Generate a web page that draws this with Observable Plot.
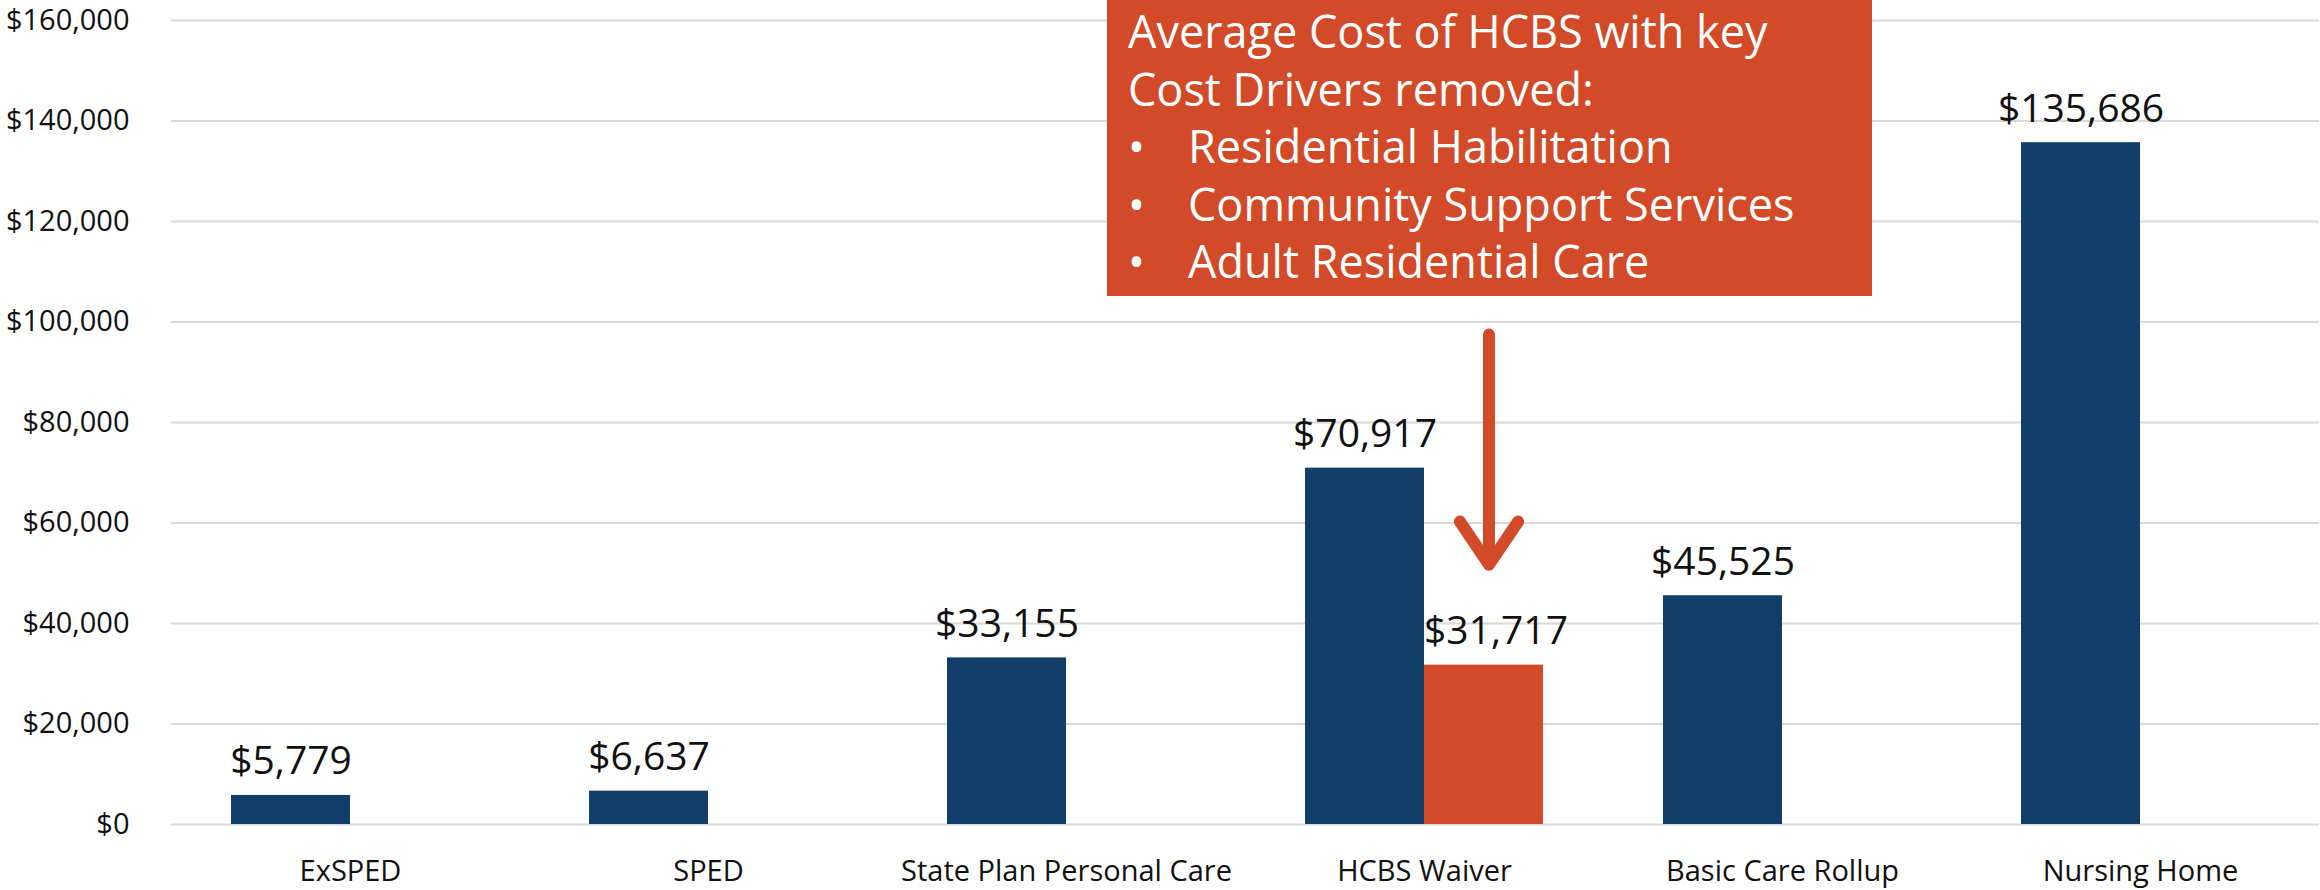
<!DOCTYPE html>
<html>
<head>
<meta charset="utf-8">
<script src="https://cdn.jsdelivr.net/npm/d3@7"></script>
<script src="https://cdn.jsdelivr.net/npm/@observablehq/plot@0.6"></script>
<style>
  html, body { margin: 0; padding: 0; background: #ffffff; }
  #wrap { position: relative; width: 2320px; height: 890px; overflow: hidden; font-family: "Open Sans", "Noto Sans", sans-serif; }
  #note {
    position: absolute; left: 1107px; top: 0px; width: 765px; height: 296px;
    background: #d24a27; color: #ffffff; box-sizing: border-box;
    padding: 2px 0 0 21px; font-size: 45px; line-height: 57.5px; overflow: hidden;
  }
  #note .bl { display: flex; }
  #note .bl .dot { width: 60px; flex: none; }
</style>
</head>
<body>
<div id="wrap">
  <div id="chart"></div>
  <div id="note"></div>
</div>
<script>
// ---- data ----
const categories = ["ExSPED", "SPED", "State Plan Personal Care", "HCBS Waiver", "Basic Care Rollup", "Nursing Home"];
const seriesNames = ["Average Cost", "Cost Drivers Removed"];
const averageCost = [5779, 6637, 33155, 70917, 45525, 135686];
const costDriversRemoved = [null, null, null, 31717, null, null];
const yTicks = [0, 20000, 40000, 60000, 80000, 100000, 120000, 140000, 160000];
const noteTitle = ["Average Cost of HCBS with key", "Cost Drivers removed:"];
const noteBullets = ["Residential Habilitation", "Community Support Services", "Adult Residential Care"];
const arrowCategory = "HCBS Waiver";
const arrowFrom = 97500;
const arrowTo = 51700;

// ---- styles ----
const blue = "#123f6a";
const orange = "#d24a27";
const fmt = d3.format("$,.0f");

const table = [];
categories.forEach((c, i) => {
  if (averageCost[i] != null) table.push({category: c, series: seriesNames[0], value: averageCost[i]});
  if (costDriversRemoved[i] != null) table.push({category: c, series: seriesNames[1], value: costDriversRemoved[i]});
});
const arrowData = [{category: arrowCategory, series: seriesNames[1], from: arrowFrom, to: arrowTo}];

const chart = Plot.plot({
  width: 2320,
  height: 890,
  marginTop: 20,
  marginBottom: 66,
  marginLeft: 169,
  marginRight: 0,
  style: {fontFamily: "'Open Sans', 'Noto Sans', sans-serif", fontSize: "29px", color: "#111", background: "transparent"},
  fx: {domain: categories, padding: 0, label: null},
  x: {domain: seriesNames, paddingInner: 0, paddingOuter: 0.4958, axis: null},
  y: {domain: [0, 160000], axis: null},
  color: {domain: seriesNames, range: [blue, orange]},
  marks: [
    Plot.gridY(yTicks, {stroke: "#dcd8d4", strokeOpacity: 1, strokeWidth: 2}),
    Plot.axisY(yTicks, {tickSize: 0, tickPadding: 42, tickFormat: fmt, label: null, fontSize: 29, fill: "#111"}),
    Plot.axisFx({anchor: "bottom", tickSize: 0, tickPadding: 36, label: null, fontSize: 29, fill: "#111"}),
    Plot.barY(table, {fx: "category", x: "series", y: "value", fill: "series"}),
    Plot.text(table.filter(d => d.series === seriesNames[0]), {
      fx: "category", x: "series", y: "value", text: d => fmt(d.value),
      lineAnchor: "bottom", dy: -21, fontSize: 39, fill: "#111"
    }),
    Plot.text(table.filter(d => d.series === seriesNames[1]), {
      fx: "category", x: "series", y: "value", text: d => fmt(d.value),
      lineAnchor: "bottom", dy: -21, dx: 12, fontSize: 39, fill: "#111"
    }),
    Plot.arrow(arrowData, {
      fx: "category", x1: "series", x2: "series", y1: "from", y2: "to",
      stroke: orange, strokeWidth: 12, headLength: 6.5, headAngle: 68,
      strokeLinecap: "round", strokeLinejoin: "round", dx: 5
    })
  ]
});
document.getElementById("chart").appendChild(chart);

// annotation box text
const note = document.getElementById("note");
noteTitle.forEach(t => { const d = document.createElement("div"); d.textContent = t; note.appendChild(d); });
noteBullets.forEach(t => {
  const d = document.createElement("div"); d.className = "bl";
  const b = document.createElement("span"); b.className = "dot"; b.textContent = "•";
  const s = document.createElement("span"); s.textContent = t;
  d.appendChild(b); d.appendChild(s); note.appendChild(d);
});
</script>
</body>
</html>
